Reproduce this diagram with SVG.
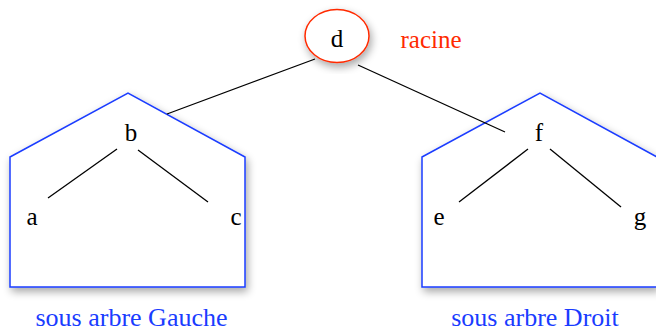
<svg xmlns="http://www.w3.org/2000/svg" width="656" height="329" viewBox="0 0 656 329">
<defs>
<filter id="sh" x="-20%" y="-20%" width="140%" height="140%">
<feGaussianBlur in="SourceAlpha" stdDeviation="4"/>
<feOffset dx="2" dy="4" result="b"/>
<feComponentTransfer><feFuncA type="linear" slope="0.35"/></feComponentTransfer>
<feMerge><feMergeNode/><feMergeNode in="SourceGraphic"/></feMerge>
</filter>
</defs>
<style>
text{font-family:'Liberation Serif','DejaVu Serif',serif;font-size:25px;text-anchor:middle}
.n{fill:#000}
.blue{fill:#1a3cff;font-size:26px}
.red{fill:#ff2a00}
.sub{fill:#fff;stroke:#1a3cff;stroke-width:1.5}
.e{stroke:#000;stroke-width:1.3;fill:none}
</style>
<rect width="656" height="329" fill="#fff"/>
<g id="subtree-left">
<polygon class="sub" filter="url(#sh)" points="10,157 128,93 245,157 245,287 10,287"/>
<text class="blue" x="131.5" y="326">sous arbre Gauche</text>
</g>
<g id="subtree-right">
<polygon class="sub" filter="url(#sh)" points="422,157 540,93 657,157 657,287 422,287"/>
<text class="blue" x="535" y="326">sous arbre Droit</text>
</g>
<g id="node-d">
<ellipse cx="337" cy="36" rx="32" ry="26.5" fill="#fff" stroke="#ff2a00" stroke-width="1.5" filter="url(#sh)"/>
<text class="n" x="337" y="47">d</text>
</g>
<g id="label-racine"><text class="red" x="431" y="48">racine</text></g>
<g id="node-b"><text class="n" x="131" y="141">b</text></g>
<g id="node-a"><text class="n" x="32" y="225">a</text></g>
<g id="node-c"><text class="n" x="236" y="225">c</text></g>
<g id="node-f"><text class="n" x="539" y="141">f</text></g>
<g id="node-e"><text class="n" x="439" y="225">e</text></g>
<g id="node-g"><text class="n" x="640" y="225">g</text></g>
<g id="connectors">
<line class="e" x1="315" y1="59" x2="167" y2="114"/>
<line class="e" x1="358" y1="65" x2="505" y2="132"/>
<line class="e" x1="117" y1="149" x2="48" y2="198"/>
<line class="e" x1="138" y1="150" x2="208" y2="202"/>
<line class="e" x1="528" y1="149" x2="459" y2="202"/>
<line class="e" x1="550" y1="149" x2="621" y2="207"/>
</g>
</svg>
